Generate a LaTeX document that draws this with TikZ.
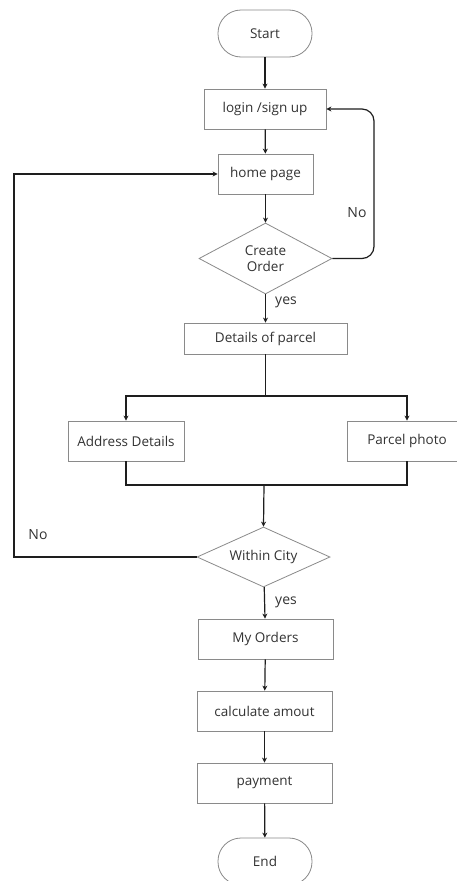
\documentclass[tikz,border=0pt]{standalone}
\usepackage{fontspec}
\setmainfont{Open Sans}
\usetikzlibrary{shapes.geometric,arrows.meta}
\definecolor{txt}{HTML}{333333}
\definecolor{edge}{HTML}{8A8A8A}
\definecolor{conn}{HTML}{1E1E1E}
\begin{document}
\begin{tikzpicture}[x=1pt,y=-1pt,
  lbl/.style={font=\fontsize{13.5}{16}\selectfont, text=txt},
  procbox/.style={lbl, draw=edge, line width=0.8pt, inner sep=0pt, rectangle},
  term/.style={lbl, draw=edge, line width=0.8pt, inner sep=0pt, rectangle, rounded corners=23pt, minimum width=94pt, minimum height=47pt},
  decide/.style={lbl, draw=edge, line width=0.8pt, inner sep=0pt, diamond, align=center},
  arr/.style={draw=conn, line width=1.2pt, -{Stealth[length=5pt,width=5pt]}},
  ln/.style={draw=conn, line width=1.2pt},
  note/.style={font=\fontsize{14}{16}\selectfont, text=txt}
]
\clip (0,0) rectangle (457,881);
\fill[white] (0,0) rectangle (457,881);

\node[term] (start) at (265,33.5) {Start};
\node[procbox, minimum width=122pt, minimum height=40pt] (login) at (265,109) {login /sign up};
\node[procbox, minimum width=95pt, minimum height=40pt] (home) at (265.5,174) {home page};
\node[decide, minimum width=133pt, minimum height=71pt, shape aspect=1.87] (create) at (265.5,258.5) {Create\\Order};
\node[procbox, minimum width=163pt, minimum height=31pt] (details) at (265.5,338.5) {Details of parcel};
\node[procbox, minimum width=116pt, minimum height=40pt] (address) at (126,441) {Address Details};
\node[procbox, minimum width=120pt, minimum height=40pt] (photo) at (407,441) {Parcel photo};
\node[decide, minimum width=133pt, minimum height=60pt, shape aspect=2.2] (city) at (263.5,557) {Within City};
\node[procbox, minimum width=135pt, minimum height=40pt] (orders) at (265.5,639) {My Orders};
\node[procbox, minimum width=135pt, minimum height=40pt] (calc) at (264.5,711) {calculate amout};
\node[procbox, minimum width=135pt, minimum height=40pt] (pay) at (264.5,783) {payment};
\node[term] (end) at (265,861.5) {End};

\coordinate (split) at (265.5,396);
\coordinate (merge) at (264,485);
\coordinate (noright) at (374,200);
\coordinate (noleft) at (14,300);

\draw[arr] (start) -- (login);
\draw[arr] (login) -- (home);
\draw[arr] (home) -- (create);
\draw[arr, rounded corners=12pt] (create.east) -| (noright) |- (login.east);
\draw[arr] (create) -- (details);
\draw[ln] (details.south) -- (split);
\draw[arr] (split) -| (address.north);
\draw[arr] (split) -| (photo.north);
\draw[ln] (address.south) |- (merge) -| (photo.south);
\draw[arr] (merge) -- (city.north);
\draw[arr] (city.west) -| (noleft) |- (home.west);
\draw[arr] (city) -- (orders);
\draw[arr] (orders) -- (calc);
\draw[arr] (calc) -- (pay);
\draw[arr] (pay) -- (end);

\node[note] (no1) at (357,213) {No};
\node[note] (yes1) at (286,302) {yes};
\node[note] (no2) at (38,535) {No};
\node[note] (yes2) at (286,602) {yes};
\end{tikzpicture}
\end{document}
